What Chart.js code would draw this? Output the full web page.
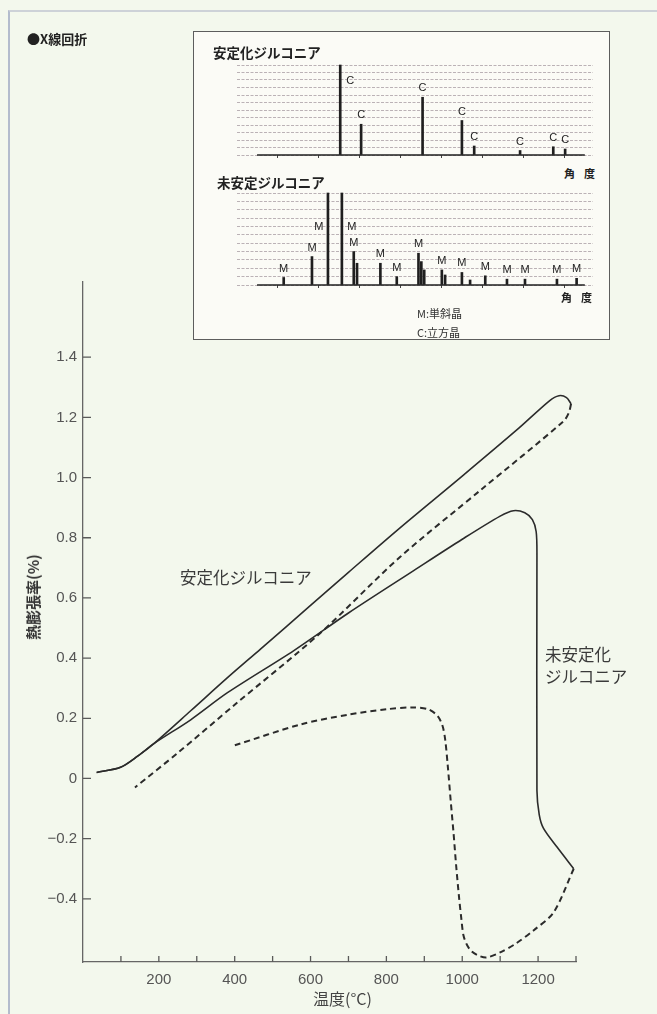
<!DOCTYPE html>
<html lang="ja">
<head>
<meta charset="utf-8">
<title>熱膨張率</title>
<script src="https://cdn.jsdelivr.net/npm/chart.js@4.4.1/dist/chart.umd.min.js"></script>
<style>
    html, body { margin: 0; padding: 0; }
    body {
        width: 657px; height: 1014px; position: relative; overflow: hidden;
        background: #f3f8ed;
        font-family: "Noto Sans CJK JP", "Noto Sans", sans-serif;
    }
    #frame { position: absolute; left: 8px; top: 10px; width: 660px; height: 1020px;
        border-left: 2px solid #b3bccd; border-top: 2px solid #cdd2d8; }
    #inset { position: absolute; left: 193px; top: 31px; width: 417px; height: 309px;
        box-sizing: border-box; border: 1.5px solid #5d5d5d; background: #fbfbf6; }
    canvas { position: absolute; }
    .txt { position: absolute; white-space: nowrap; color: #333; }
    .head { font-weight: bold; font-size: 13.5px; line-height: 16px; color: #222; }
    .small { font-size: 11px; line-height: 14px; color: #333; }
    .kaku { font-weight: bold; font-size: 11px; line-height: 14px; letter-spacing: 9px; color: #222; }
    .note { font-size: 16.5px; line-height: 20px; color: #3a3a3a; }
</style>
</head>
<body>
<div id="frame"></div>
<canvas id="mainChart" width="657" height="1014" style="left:0;top:0"></canvas>

<div class="txt" style="left:27px;top:31px;font-size:13px;line-height:16px;font-weight:bold;color:#222">●X線回折</div>

<div id="inset"></div>
<canvas id="stabXrd" width="377" height="110" style="left:226px;top:55px"></canvas>
<canvas id="unstabXrd" width="377" height="112" style="left:226px;top:183px"></canvas>
<div class="txt head" style="left:213px;top:44px">安定化ジルコニア</div>
<div class="txt kaku" style="left:564px;top:166px">角度</div>
<div class="txt head" style="left:217px;top:174px">未安定ジルコニア</div>
<div class="txt kaku" style="left:561px;top:290px">角度</div>
<div class="txt small" style="left:417px;top:306px">M:単斜晶</div>
<div class="txt small" style="left:417px;top:325px">C:立方晶</div>

<div class="txt note" style="left:180px;top:567px">安定化ジルコニア</div>
<div class="txt note" style="left:545px;top:644px">未安定化</div>
<div class="txt note" style="left:545px;top:666px">ジルコニア</div>
<div class="txt" style="left:33px;top:597px;font-size:15px;line-height:18px;font-weight:bold;color:#333;transform:translate(-50%,-50%) rotate(-90deg)">熱膨張率(%)</div>
<div class="txt" style="left:313px;top:988px;font-size:16px;line-height:20px;color:#444">温度(°C)</div>

<script>
// 熱膨張曲線: 温度(°C) / 熱膨張率(%)
const stabHeatT = [36, 99, 145, 186, 284, 381, 468, 600, 700, 836, 1000, 1150, 1230, 1255, 1275, 1287];
const stabHeatE = [0.02, 0.037, 0.075, 0.115, 0.225, 0.335, 0.43, 0.575, 0.685, 0.833, 1.005, 1.165, 1.255, 1.272, 1.266, 1.245];

const stabCoolT = [1287, 1281, 1267, 1050, 836, 623, 400, 250, 137];
const stabCoolE = [1.245, 1.215, 1.187, 0.96, 0.736, 0.48, 0.245, 0.085, -0.03];

const unstabHeatT = [36, 99, 145, 186, 284, 381, 556, 700, 871, 1000, 1100, 1135, 1165, 1185, 1195, 1197, 1197, 1203, 1214, 1250, 1294];
const unstabHeatE = [0.02, 0.037, 0.075, 0.115, 0.195, 0.285, 0.425, 0.55, 0.69, 0.795, 0.872, 0.89, 0.883, 0.86, 0.82, 0.74, -0.04, -0.12, -0.165, -0.228, -0.30];

const unstabCoolT = [1294, 1241, 1188, 1140, 1100, 1065, 1045, 1025, 1012, 1003, 998, 992, 984, 977, 970, 962, 955, 948, 935, 910, 870, 800, 700, 575, 400];
const unstabCoolE = [-0.30, -0.445, -0.505, -0.55, -0.578, -0.595, -0.59, -0.575, -0.552, -0.52, -0.47, -0.40, -0.29, -0.18, -0.08, 0.04, 0.13, 0.175, 0.208, 0.23, 0.236, 0.23, 0.212, 0.18, 0.11];

const xTicks = [100, 200, 300, 400, 500, 600, 700, 800, 900, 1000, 1100, 1200, 1300];
const xLabels = [200, 400, 600, 800, 1000, 1200];
const yTicks = [-0.4, -0.2, 0, 0.2, 0.4, 0.6, 0.8, 1.0, 1.2, 1.4];

// X線回折: 角度 / 強度(目盛線の本数)
const stabPeakAngle = [30.3, 35.4, 50.4, 60.0, 63.0, 74.2, 82.3, 85.2];
const stabPeakHeight = [12, 4.1, 7.7, 4.6, 1.2, 0.6, 1.1, 0.8];
const stabPeakLabel = ['C', 'C', 'C', 'C', 'C', 'C', 'C', 'C'];

const unstabPeakAngle = [16.5, 23.4, 27.3, 30.7, 33.6, 34.4, 40.1, 44.1, 49.4, 50.1, 50.8, 55.1, 55.9, 60.0, 62.0, 65.7, 71.0, 75.4, 83.2, 88.0];
const unstabPeakHeight = [0.9, 3.4, 11, 11, 4.0, 2.6, 2.6, 1.0, 3.8, 2.8, 1.8, 1.8, 1.2, 1.5, 0.6, 1.1, 0.7, 0.7, 0.7, 0.8];
const unstabPeakLabel = ['M', 'M', 'M', 'M', 'M', '', 'M', 'M', 'M', '', '', 'M', '', 'M', '', 'M', 'M', 'M', 'M', 'M'];

const xrdTicks = [10, 20, 30, 40, 50, 60, 70, 80, 90];
const xrdRange = [10, 90];

const lineColor = '#2b2b2b';
const tickFont = { family: '"Liberation Sans", Arial, sans-serif', size: 15 };

function toPoints(xs, ys) {
    return xs.map((x, i) => ({ x: x, y: ys[i] }));
}

function curve(xs, ys, dashed) {
    return {
        data: toPoints(xs, ys),
        showLine: true,
        borderColor: lineColor,
        borderWidth: dashed ? 2 : 1.6,
        borderDash: dashed ? [6, 4] : [],
        pointRadius: 0,
        tension: 0.3,
        fill: false
    };
}

// tick marks pointing into the plot
const innerTicks = {
    id: 'innerTicks',
    afterDraw(chart) {
        const { ctx, chartArea, scales } = chart;
        ctx.save();
        ctx.strokeStyle = '#5a5a5a';
        ctx.lineWidth = 1.3;
        ctx.beginPath();
        scales.x.ticks.forEach(t => {
            const x = scales.x.getPixelForValue(t.value);
            ctx.moveTo(x, chartArea.bottom);
            ctx.lineTo(x, chartArea.bottom - 6);
        });
        scales.y.ticks.forEach(t => {
            const y = scales.y.getPixelForValue(t.value);
            ctx.moveTo(chartArea.left, y);
            ctx.lineTo(chartArea.left + 8, y);
        });
        ctx.stroke();
        ctx.restore();
    }
};

new Chart(document.getElementById('mainChart').getContext('2d'), {
    type: 'scatter',
    data: {
        datasets: [
            curve(stabHeatT, stabHeatE, false),
            curve(stabCoolT, stabCoolE, true),
            curve(unstabHeatT, unstabHeatE, false),
            curve(unstabCoolT, unstabCoolE, true)
        ]
    },
    options: {
        responsive: false,
        animation: false,
        layout: { padding: { left: 0, top: 282, right: 81, bottom: 0 } },
        plugins: {
            legend: { display: false },
            tooltip: { enabled: false }
        },
        scales: {
            x: {
                type: 'linear',
                min: 0,
                max: 1300,
                afterFit: s => { s.height = 52; },
                afterBuildTicks: s => { s.ticks = xTicks.map(v => ({ value: v })); },
                grid: { display: false, drawTicks: false },
                border: { color: '#666', width: 1.3 },
                ticks: {
                    padding: 9,
                    color: '#555',
                    font: tickFont,
                    autoSkip: false,
                    maxRotation: 0,
                    callback: v => xLabels.includes(v) ? String(v) : ''
                }
            },
            y: {
                type: 'linear',
                min: -0.61,
                max: 1.65,
                afterFit: s => { s.width = 83; },
                afterBuildTicks: s => { s.ticks = yTicks.map(v => ({ value: v })); },
                grid: { display: false, drawTicks: false },
                border: { color: '#666', width: 1.3 },
                ticks: {
                    padding: 6,
                    color: '#555',
                    font: tickFont,
                    autoSkip: false,
                    callback: v => {
                        if (Math.abs(v) < 1e-9) return '0';
                        return (v < 0 ? '−' : '') + Math.abs(v).toFixed(1);
                    }
                }
            }
        }
    },
    plugins: [innerTicks]
});

// C / M labels over the diffraction peaks
const peakLabels = {
    id: 'peakLabels',
    afterDatasetsDraw(chart, args, opts) {
        const { ctx, scales: { x, y } } = chart;
        const pts = chart.data.datasets[0].data;
        ctx.save();
        ctx.font = '11px "Liberation Sans", Arial, sans-serif';
        ctx.fillStyle = '#222';
        ctx.textAlign = 'center';
        ctx.textBaseline = 'middle';
        opts.labels.forEach((lab, i) => {
            if (!lab) return;
            const p = pts[i];
            let px = x.getPixelForValue(p.x);
            let py;
            if (p.y >= y.max) {
                const nextClipped = pts[i + 1] && pts[i + 1].y >= y.max;
                px += nextClipped ? -9 : 10;
                py = y.getPixelForValue(opts.sideValue);
            } else {
                py = y.getPixelForValue(p.y) - 9;
            }
            ctx.fillText(lab, px, py);
        });
        ctx.restore();
    }
};

function xrdChart(id, angles, heights, labels, yMax, sideValue) {
    return new Chart(document.getElementById(id).getContext('2d'), {
        type: 'bar',
        data: {
            datasets: [
                {
                    type: 'bar',
                    data: toPoints(angles, heights),
                    backgroundColor: '#1f1f1f',
                    barThickness: 2,
                    clip: false
                },
                {
                    type: 'line',
                    data: xrdRange.map(a => ({ x: a, y: 0 })),
                    borderColor: '#1f1f1f',
                    borderWidth: 1.6,
                    pointRadius: 0,
                    clip: false
                }
            ]
        },
        options: {
            responsive: false,
            animation: false,
            layout: { padding: { left: 11, right: 10, top: 10, bottom: 10 } },
            plugins: {
                legend: { display: false },
                tooltip: { enabled: false },
                peakLabels: { labels: labels, sideValue: sideValue }
            },
            scales: {
                x: {
                    type: 'linear',
                    min: 5.1,
                    max: 92,
                    offset: false,
                    afterFit: s => { s.height = 0; },
                    afterBuildTicks: s => { s.ticks = xrdTicks.map(v => ({ value: v })); },
                    grid: { drawOnChartArea: false, drawTicks: true, tickLength: 3, color: '#444' },
                    border: { display: false },
                    ticks: { display: false }
                },
                y: {
                    type: 'linear',
                    min: 0,
                    max: yMax,
                    afterFit: s => { s.width = 0; },
                    afterBuildTicks: s => {
                        s.ticks = Array.from({ length: yMax + 1 }, (_, i) => ({ value: i }));
                    },
                    grid: { color: 'rgba(135, 118, 130, 0.55)', lineWidth: 1, drawTicks: false },
                    border: { display: false, dash: [3, 1.5] },
                    ticks: { display: false }
                }
            }
        },
        plugins: [peakLabels]
    });
}

xrdChart('stabXrd', stabPeakAngle, stabPeakHeight, stabPeakLabel, 12, 9.9);
xrdChart('unstabXrd', unstabPeakAngle, unstabPeakHeight, unstabPeakLabel, 11, 6.9);
</script>
</body>
</html>
